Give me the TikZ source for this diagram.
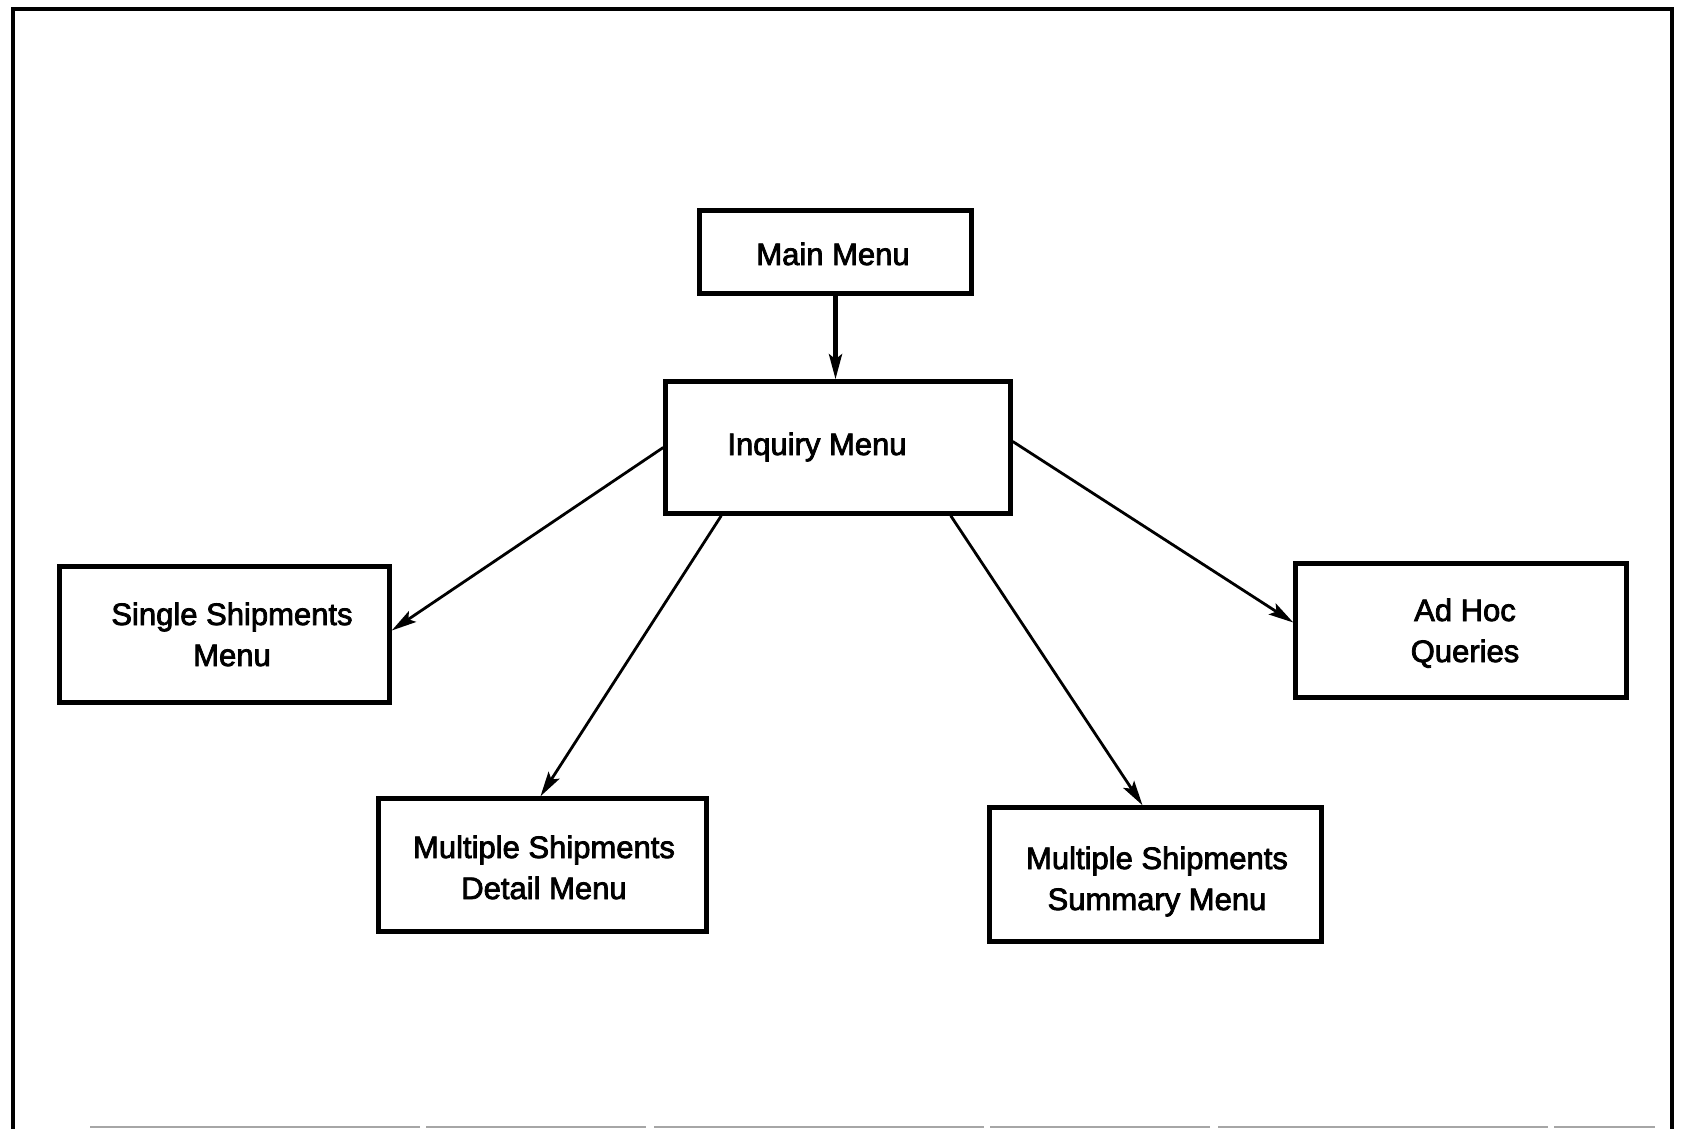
\documentclass[tikz,border=0pt]{standalone}
\usepackage{fontspec}
\setmainfont{Liberation Sans}[BoldFont=Liberation Sans, BoldFeatures={FakeBold=2.5}]
\usetikzlibrary{arrows.meta}
\begin{document}
\begin{tikzpicture}[x=1pt,y=-1pt,
  menubox/.style={draw, line width=4.5pt, rectangle, inner sep=0pt},
  menutext/.style={anchor=base, align=center, inner sep=0pt, font=\fontsize{31}{41}\selectfont\bfseries},
  link/.style={line width=2.8pt, -{Stealth[length=25pt,width=13pt,inset=5pt]}},
  mainlink/.style={line width=4.2pt, -{Stealth[length=25pt,width=13pt,inset=5pt]}}]
\useasboundingbox (0,0) rectangle (1682,1129);
\fill[white] (0,0) rectangle (1682,1129);
% frame
\draw[line width=3.5pt] (13,1129) -- (13,9) -- (1672,9) -- (1672,1129);
\draw[gray!70, line width=1.5pt, dash pattern=on 330pt off 6pt on 220pt off 8pt] (90,1127) -- (1655,1127);
% boxes
\node[menubox, minimum width=272pt, minimum height=83pt] (main) at (835.5,252) {};
\node[menubox, minimum width=345pt, minimum height=132pt] (inq) at (838,447.5) {};
\node[menubox, minimum width=330pt, minimum height=136pt] (single) at (224.5,634.5) {};
\node[menubox, minimum width=331pt, minimum height=134pt] (adhoc) at (1461,630.5) {};
\node[menubox, minimum width=328pt, minimum height=133pt] (detail) at (542.5,865) {};
\node[menubox, minimum width=332pt, minimum height=134pt] (summary) at (1155.5,874.5) {};
% texts (base anchor = last line's baseline)
\node[menutext] (tmain) at (833,265) {Main Menu};
\node[menutext] (tinq) at (817,455) {Inquiry Menu};
\node[menutext] (tsingle) at (232,666) {Single Shipments\\Menu};
\node[menutext] (tadhoc) at (1465,662) {Ad Hoc\\Queries};
\node[menutext] (tdetail) at (544,899) {Multiple Shipments\\Detail Menu};
\node[menutext] (tsummary) at (1157,910) {Multiple Shipments\\Summary Menu};
% connectors
\draw[mainlink] (main.south) -- (main.south |- inq.north);
\draw[link] (inq.west) -- ([yshift=4pt]single.east);
\draw[link] ([xshift=58pt]inq.south west) -- ([xshift=-2pt]detail.north);
\draw[link] ([xshift=-62pt]inq.south east) -- ([xshift=-13pt]summary.north);
\draw[link] ([yshift=6pt]inq.east) -- ([yshift=8pt]adhoc.west);
\end{tikzpicture}
\end{document}
